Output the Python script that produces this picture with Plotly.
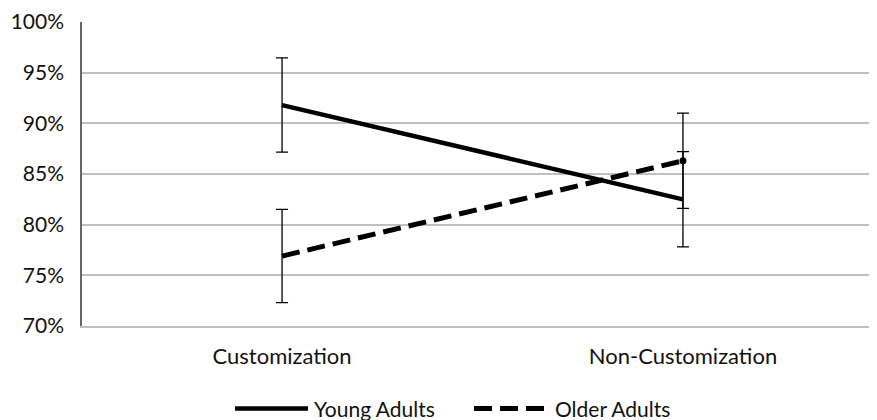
import plotly.graph_objects as go

categories = ["Customization", "Non-Customization"]
young_values = [91.8, 82.5]
young_err = [4.65, 4.7]
older_values = [76.9, 86.3]
older_err = [4.6, 4.7]
y_ticks = [70, 75, 80, 85, 90, 95, 100]
y_tick_labels = ["70%", "75%", "80%", "85%", "90%", "95%", "100%"]
series_names = ["Young Adults", "Older Adults"]

FONT = "Lato"
DASH = "18px,8px"

fig = go.Figure()
fig.add_trace(go.Scatter(
    x=[0, 1], y=young_values, mode="lines", name=series_names[0], showlegend=False,
    line=dict(color="black", width=4.5),
    error_y=dict(type="data", array=young_err, color="black", thickness=1.3, width=6),
))
fig.add_trace(go.Scatter(
    x=[0, 1], y=older_values, mode="lines", name=series_names[1], showlegend=False,
    line=dict(color="black", width=5, dash=DASH),
    error_y=dict(type="data", array=older_err, color="black", thickness=1.3, width=6),
))
fig.add_trace(go.Scatter(
    x=[1], y=older_values[1:], mode="markers", showlegend=False,
    marker=dict(size=7, color="black"), hoverinfo="skip",
))

# custom legend (long line swatches as in the reference)
ly = -0.271
fig.add_shape(type="line", xref="paper", yref="paper", x0=0.1925, x1=0.2843, y0=ly, y1=ly,
              line=dict(color="black", width=4.5))
fig.add_shape(type="line", xref="paper", yref="paper", x0=0.4931, x1=0.5849, y0=ly, y1=ly,
              line=dict(color="black", width=5, dash=DASH))
fig.add_annotation(xref="paper", yref="paper", x=0.2893, y=ly, text=series_names[0],
                   showarrow=False, xanchor="left", yanchor="middle", font=dict(size=21))
fig.add_annotation(xref="paper", yref="paper", x=0.5925, y=ly, text=series_names[1],
                   showarrow=False, xanchor="left", yanchor="middle", font=dict(size=21))

fig.update_layout(
    width=877, height=420,
    margin=dict(l=74, r=8, t=14, b=102, autoexpand=False),
    paper_bgcolor="white", plot_bgcolor="white",
    font=dict(family=FONT, size=22, color="#111111"),
    showlegend=False,
)
fig.update_xaxes(
    range=[-0.499, 1.484], tickvals=[0, 1], ticktext=categories,
    showgrid=False, zeroline=False, showline=True, linecolor="#c0c0c0", linewidth=1.5,
    ticks="", ticklabelstandoff=10, automargin=False,
)
fig.update_yaxes(
    range=[70, 100], tickvals=y_ticks, ticktext=y_tick_labels, tickfont=dict(size=21),
    showgrid=True, gridcolor="#c0c0c0", gridwidth=1.5,
    zeroline=False, showline=True, linecolor="#666666", linewidth=1.5,
    ticks="", ticklabelstandoff=12, automargin=False, ticklabeloverflow="allow",
)
fig.write_html("out.html")
